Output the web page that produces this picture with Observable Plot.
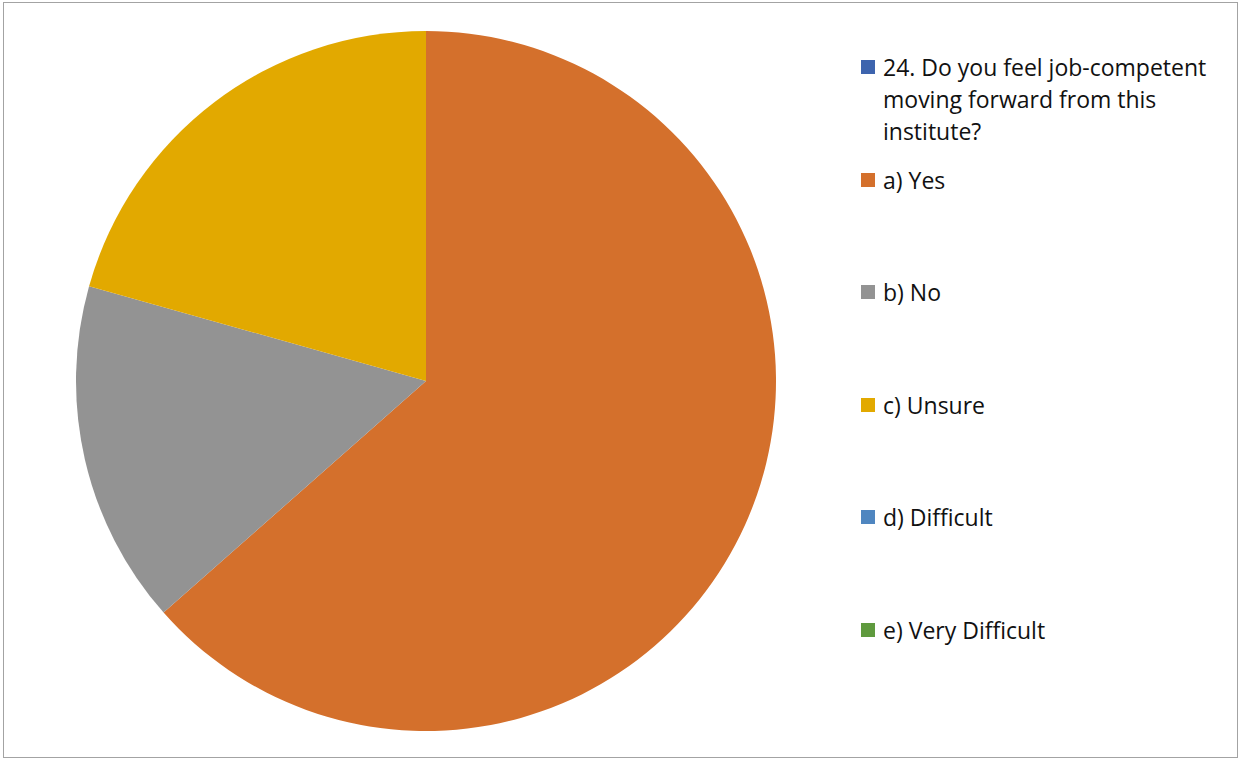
<!DOCTYPE html>
<html>
<head>
<meta charset="utf-8">
<script src="https://cdn.jsdelivr.net/npm/d3@7"></script>
<script src="https://cdn.jsdelivr.net/npm/@observablehq/plot@0.6"></script>
<style>
  html, body { margin: 0; padding: 0; background: #fff; }
  #frame { position: relative; width: 1241px; height: 760px; overflow: hidden; }
  #border { position: absolute; left: 3px; top: 2px; width: 1235px; height: 756px; border: 1px solid #a3a3a3; box-sizing: border-box; pointer-events: none; }
  #chart { position: absolute; left: 0; top: 0; }
  #legend { position: absolute; left: 0; top: 0; font-family: "Open Sans", "Liberation Sans", Arial, sans-serif; font-size: 23px; color: #111; }
  .item { position: absolute; left: 861px; width: 370px; display: flex; align-items: flex-start; }
  .sw { width: 14px; height: 14px; margin-top: 9px; margin-right: 8px; flex: none; }
  .lab { line-height: 32px; width: 345px; }
</style>
</head>
<body>
<div id="frame">
  <div id="chart"></div>
  <div id="legend"></div>
  <div id="border"></div>
</div>
<script>
const seriesName = "24. Do you feel job-competent moving forward from this institute?";
const seriesColor = "#3d64ae";
const categories = ["a) Yes", "b) No", "c) Unsure", "d) Difficult", "e) Very Difficult"];
const values = [40, 10, 13, 0, 0];
const colors = ["#d4702c", "#939393", "#e2a900", "#4f86c0", "#5f9a3e"];

const data = categories.map((c, i) => ({category: c, value: values[i]}));
const arcs = d3.pie().sort(null).value(d => d.value)(data);

function pieMark(index, scales) {
  const x = scales.x, y = scales.y;
  const cx = x(0), cy = y(0);
  const r = x(1) - x(0);
  const g = d3.create("svg:g").attr("transform", `translate(${cx},${cy})`);
  const arcGen = d3.arc().innerRadius(0).outerRadius(r);
  g.selectAll("path")
    .data(arcs.filter(a => a.data.value > 0))
    .join("path")
    .attr("d", arcGen)
    .attr("fill", a => scales.color(a.data.category));
  return g.node();
}

const chart = Plot.plot({
  width: 860,
  height: 760,
  margin: 0,
  x: {domain: [-1, 1], range: [76, 776], axis: null},
  y: {domain: [-1, 1], range: [731, 31], axis: null},
  color: {domain: categories, range: colors},
  marks: [
    Plot.dot([-1, 1], {x: d => d, y: d => d, r: 0, fill: "none", stroke: "none"}),
    pieMark
  ]
});
document.getElementById("chart").appendChild(chart);

const legend = document.getElementById("legend");
const items = [{label: seriesName, color: seriesColor}].concat(categories.map((c, i) => ({label: c, color: colors[i]})));
items.forEach((it, i) => {
  const div = document.createElement("div");
  div.className = "item";
  div.style.top = (51 + i * 112.6) + "px";
  const sw = document.createElement("div");
  sw.className = "sw";
  sw.style.background = it.color;
  const lab = document.createElement("div");
  lab.className = "lab";
  lab.textContent = it.label;
  div.appendChild(sw);
  div.appendChild(lab);
  legend.appendChild(div);
});
</script>
</body>
</html>
